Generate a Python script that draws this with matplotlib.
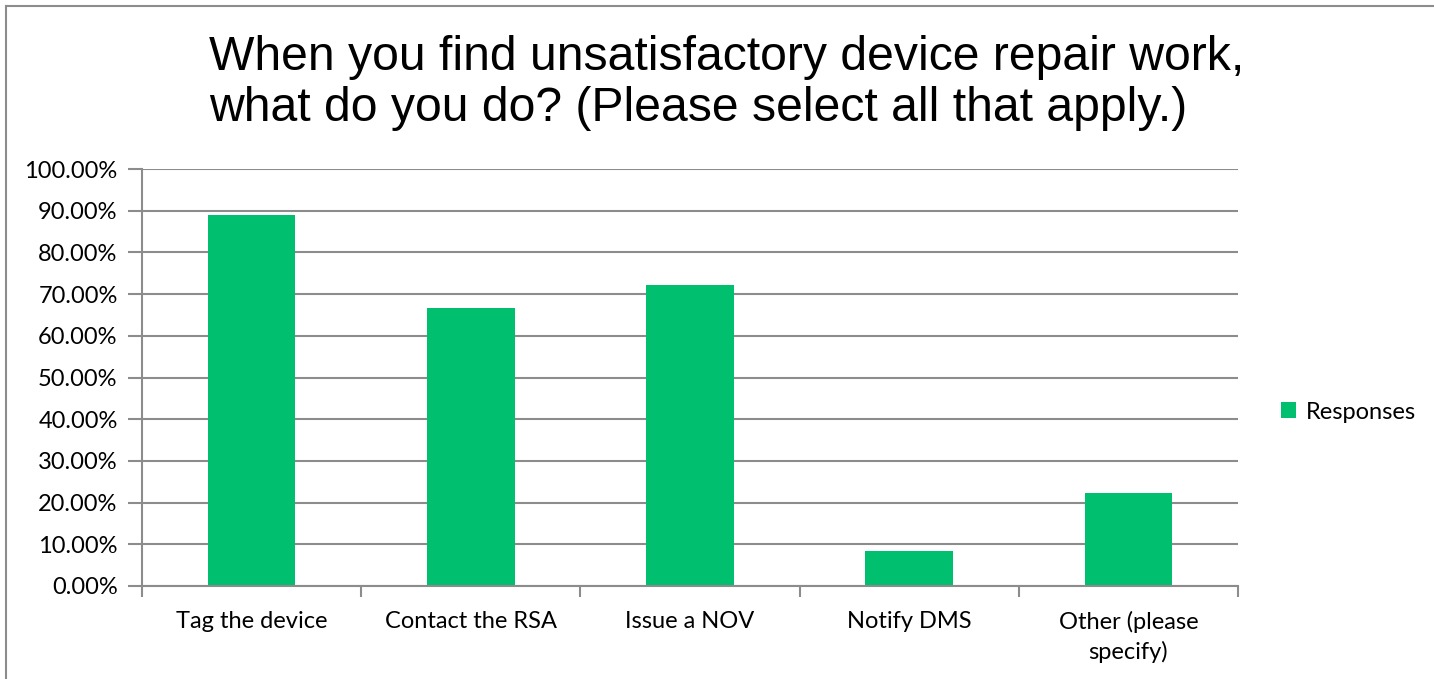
import matplotlib
matplotlib.use("Agg")
import matplotlib.pyplot as plt
from matplotlib.lines import Line2D
from matplotlib.ticker import PercentFormatter, MultipleLocator

# --- Data ---
categories = ["Tag the device", "Contact the RSA", "Issue a NOV",
              "Notify DMS", "Other (please\nspecify)"]
responses = [88.89, 66.67, 72.22, 8.33, 22.22]
series_name = "Responses"
title = ("When you find unsatisfactory device repair work,\n"
         "what do you do? (Please select all that apply.)")

bar_color = "#00BF6F"
grid_color = "#8C8C8C"
label_font = "Lato"
label_size = 17

fig = plt.figure(figsize=(14.34, 6.79), dpi=100)
fig.patch.set_linewidth(0)
ax = fig.add_axes([0.099, 0.137, 0.7643, 0.614])

x = range(len(categories))
ax.bar(x, responses, width=0.4, color=bar_color, label=series_name, zorder=3)

ax.set_xlim(-0.5, len(categories) - 0.5)
ax.set_ylim(0, 100)
ax.yaxis.set_major_locator(MultipleLocator(10))
ax.yaxis.set_major_formatter(PercentFormatter(decimals=2))

ax.set_xticks(list(x))
ax.set_xticklabels(categories, fontsize=label_size, family=label_font,
                   linespacing=1.45)
ax.set_xticks([i - 0.5 for i in range(len(categories) + 1)], minor=True)
ax.tick_params(axis="x", which="major", length=0, pad=18)
ax.tick_params(axis="x", which="minor", length=8, width=1.5, color=grid_color)
ax.tick_params(axis="y", length=10, width=1.5, color=grid_color, pad=7.5,
               labelsize=label_size)
for lbl in ax.get_yticklabels():
    lbl.set_family(label_font)

ax.grid(axis="y", color=grid_color, linewidth=1.5, zorder=0)
for side in ["top", "right"]:
    ax.spines[side].set_visible(False)
ax.spines["left"].set_color(grid_color)
ax.spines["left"].set_linewidth(1.5)
ax.spines["bottom"].set_color(grid_color)
ax.spines["bottom"].set_linewidth(1.5)
ax.spines["bottom"].set_zorder(4)

fig.text(209 / 1434, 1 - 35 / 679, title, ha="left", va="top",
         multialignment="left", fontsize=34.7, family="Liberation Sans",
         linespacing=1.17)

ax.legend(loc="center left", bbox_to_anchor=(1.02, 0.417), frameon=False,
          prop={"family": label_font, "size": label_size}, handlelength=0.65,
          handleheight=0.65, handletextpad=0.4)

# chart-area border: only left and top edges fall inside the picture
left_x, top_y = 6.5 / 1434, 1 - 5.5 / 679
fig.lines.append(Line2D([left_x, left_x], [0, top_y], transform=fig.transFigure,
                        color=grid_color, linewidth=1.5))
fig.lines.append(Line2D([left_x, 1], [top_y, top_y], transform=fig.transFigure,
                        color=grid_color, linewidth=1.5))

fig.savefig("out.png", dpi=100)
